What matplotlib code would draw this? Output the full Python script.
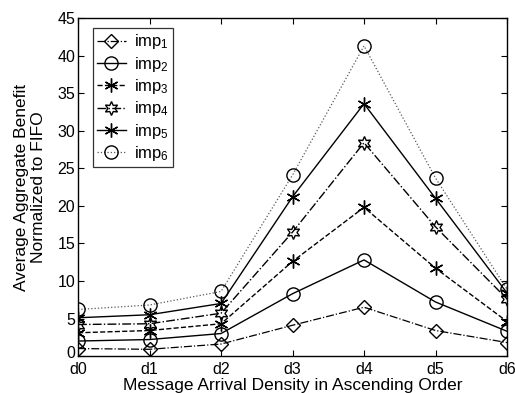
import matplotlib
matplotlib.use("Agg")
import matplotlib.pyplot as plt
import matplotlib.transforms as mtransforms
from matplotlib.lines import Line2D
import numpy as np

plt.rcParams['font.family'] = ['Liberation Sans', 'DejaVu Sans']
plt.rcParams['mathtext.fontset'] = 'custom'
plt.rcParams['mathtext.rm'] = 'Liberation Sans'
plt.rcParams['mathtext.it'] = 'Liberation Sans'

densities = ['d0', 'd1', 'd2', 'd3', 'd4', 'd5', 'd6']
imp1 = [1.0, 0.9, 1.6, 4.1, 6.5, 3.4, 1.8]
imp2 = [2.0, 2.2, 3.0, 8.3, 12.8, 7.2, 3.3]
imp3 = [3.1, 3.4, 4.3, 12.6, 19.8, 11.7, 4.6]
imp4 = [4.2, 4.3, 5.7, 16.5, 28.4, 17.2, 7.6]
imp5 = [5.1, 5.5, 7.0, 21.2, 33.6, 21.0, 8.4]
imp6 = [6.2, 6.8, 8.6, 24.1, 41.3, 23.7, 8.9]

x = np.arange(len(densities))

fig = plt.figure(figsize=(5.15, 3.93), dpi=100)
ax = fig.add_axes([0.1515, 0.094, 0.833, 0.86])

asterisk = (6, 2, 0)
hexagram = (6, 1, 0)
# data, marker, linestyle, markersize, linewidth, line colour
styles = [
    (imp1, 'D', '-.', 7.5, 0.9, 'k'),
    (imp2, 'o', '-', 9.5, 1.0, 'k'),
    (imp3, asterisk, '--', 10, 1.0, 'k'),
    (imp4, hexagram, '-.', 10, 1.0, 'k'),
    (imp5, asterisk, '-', 10, 1.0, 'k'),
    (imp6, 'o', ':', 9.5, 0.9, '0.35'),
]
for vals, mk, ls, ms, lw, lc in styles:
    ax.plot(x, vals, linestyle=ls, color=lc, linewidth=lw)
    ax.plot(x, vals, linestyle='none', marker=mk, markersize=ms,
            markerfacecolor='none', markeredgecolor='k', markeredgewidth=1.0)

# legend entries combine line style and marker
handles = [Line2D([], [], linestyle=ls, color=lc, linewidth=lw, marker=mk,
                  markersize=ms, markerfacecolor='none', markeredgecolor='k',
                  markeredgewidth=1.0)
           for (_, mk, ls, ms, lw, lc) in styles]
labels = ['imp$_{%d}$' % (i + 1) for i in range(6)]
leg = ax.legend(handles, labels, loc='upper left', bbox_to_anchor=(0.035, 0.97),
                handlelength=1.7, handletextpad=0.5, labelspacing=0.2,
                borderpad=0.25, fontsize=12, frameon=True, fancybox=False,
                borderaxespad=0)
leg.get_frame().set_edgecolor('k')
leg.get_frame().set_linewidth(0.9)

ax.set_xlim(0, 6)
ax.set_ylim(0, 45)
ax.set_xticks(x)
ax.set_xticklabels(densities)
ax.set_yticks(np.arange(0, 46, 5))
ax.tick_params(direction='in', top=True, right=True, labelsize=11.5,
               length=4, width=0.8)
ax.tick_params(axis='x', pad=4)
ax.tick_params(axis='y', pad=2)
for s in ax.spines.values():
    s.set_linewidth(1.0)

# nudge the "0" label up so it clears the d0 label below it
fig.canvas.draw()
zero = ax.get_yticklabels()[0]
zero.set_transform(zero.get_transform() +
                   mtransforms.ScaledTranslation(0, 3 / 72, fig.dpi_scale_trans))

ax.set_xlabel('Message Arrival Density in Ascending Order', fontsize=12.5, labelpad=1)
ax.set_ylabel('Average Aggregate Benefit\nNormalized to FIFO', fontsize=12.5,
              labelpad=8, linespacing=1.2)

fig.savefig('out.png', dpi=100)
